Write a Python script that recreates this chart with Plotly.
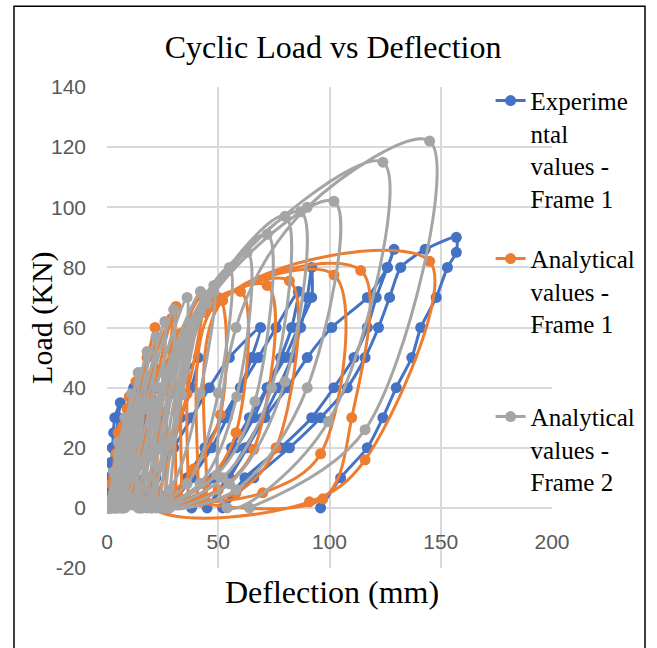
import plotly.graph_objects as go

# ---------------- data ----------------
exp_x = [0, 0.5, 1, 1.5, 1, 0.5, 0.5,
         1, 1.5, 2, 2.5, 3, 2.5, 2, 1.5, 1, 1,
         1.5, 2.5, 3.5, 6, 5, 4, 3, 2,
         4, 6, 8, 12, 11, 9, 6, 4,
         8, 12, 16, 20, 24, 22, 18, 14, 10, 7,
         13, 19, 25, 31, 41, 38, 33, 27, 21, 15,
         22, 30, 38, 46, 55, 69, 65, 60, 54, 47, 38, 28,
         36, 44, 52, 60, 68, 76, 86, 83, 78, 72, 66, 58, 48, 38,
         48, 56, 64, 72, 80, 86, 92, 92, 90, 87, 83, 77, 70, 62, 54, 45,
         55, 63, 71, 81, 90, 101, 117, 126, 129, 126, 121, 117, 111, 102, 92, 78, 62, 52,
         66, 82, 96, 108, 116, 122, 127, 132, 143, 157, 157, 153, 148, 141, 137, 130, 124, 117, 105, 96]
exp_y = [0, 5, 10, 15, 10, 5, 0,
         5, 10, 15, 20, 25, 20, 15, 10, 5, 0,
         10, 20, 30, 35, 30, 20, 10, 0,
         10, 20, 30, 40, 30, 20, 10, 0,
         10, 20, 30, 40, 46, 40, 30, 20, 10, 0,
         10, 20, 30, 40, 50, 40, 30, 20, 10, 0,
         10, 20, 30, 40, 50, 60, 50, 40, 30, 20, 10, 0,
         10, 20, 30, 40, 50, 60, 72, 60, 50, 40, 30, 20, 10, 0,
         10, 20, 30, 40, 50, 60, 70, 80, 70, 60, 50, 40, 30, 20, 10, 0,
         10, 20, 30, 40, 50, 60, 70, 80, 86, 80, 70, 60, 50, 40, 30, 20, 10, 0,
         10, 20, 30, 40, 50, 60, 70, 80, 86, 90, 85, 80, 70, 60, 50, 40, 30, 20, 10, 0]

an1_x = [0, 2, 4, 5, 3, 1,
         2, 5, 7, 9, 6, 3,
         4, 7, 10, 8, 5,
         6, 10, 13, 15.6, 11, 7,
         9, 13, 18, 14, 9,
         11, 16, 21.6, 17, 11,
         13, 19, 29, 23, 14,
         16, 23, 31, 26, 17,
         19, 28, 43, 36, 22,
         22, 30, 50, 51, 39, 25,
         26, 33, 60, 58, 44, 28,
         30, 36, 72, 66, 50, 32,
         33, 40, 82, 76, 58, 35,
         36, 44, 102, 96, 70, 38,
         40, 48, 114, 110, 97, 42,
         44, 52, 145, 116, 91, 20, 6, 2]
an1_y = [0, 8, 18, 25, 10, 1,
         3, 18, 27, 33, 14, 1,
         4, 22, 37, 16, 1,
         5, 28, 42, 45, 18, 1,
         4, 35, 50, 20, 1,
         4, 40, 60, 24, 1,
         5, 44, 63, 28, 2,
         5, 45, 67, 32, 2,
         4, 48, 71, 38, 3,
         4, 55, 70, 31, 13, 2,
         4, 58, 72, 25, 8, 2,
         3, 60, 74, 19.5, 6, 2,
         3, 62, 75.5, 20, 5, 2,
         3, 65, 77.5, 18, 5, 2,
         3, 67, 79, 30, 3, 2,
         3, 69, 82, 16, 2, 0, 25, 0]

an2_x = [0, 3, 5, 3, 1,
         2, 5, 8, 5, 2,
         3, 7, 11, 7, 3,
         4, 9, 14, 10, 4,
         5, 11, 18, 13, 5,
         6, 13, 22, 16, 6,
         7, 15, 26, 20, 8,
         8, 17, 30, 24, 10,
         10, 20, 36, 28, 12,
         12, 24, 42, 33.6, 20, 14,
         14, 27, 48, 41.8, 28, 16,
         16, 30, 55, 50, 36, 18,
         18, 33, 63, 58.3, 41.8, 20,
         20, 36, 72, 66.5, 49.3, 22,
         22, 39, 80, 74, 52, 24,
         24, 42, 87, 80, 55, 26,
         26, 45, 102, 90, 58, 28,
         28, 48, 124, 99.5, 54, 58, 90, 145, 116, 64]
an2_y = [0, 12, 22, 5, 0,
         2, 18, 30, 8, 0,
         2, 22, 38, 10, 0,
         2, 25, 45, 12, 0,
         2, 28, 52, 15, 0,
         2, 30, 57, 16, 0,
         2, 32, 62, 18, 0,
         2, 33, 66, 20, 1,
         2, 35, 70, 22, 1,
         2, 40, 72, 37.6, 5, 0,
         2, 45, 74, 38.2, 6, 0,
         2, 50, 80, 38.2, 8, 0,
         2, 55, 85, 37, 8.2, 0,
         2, 58, 91, 35.4, 11, 0,
         2, 62, 97, 40, 10, 0,
         2, 65, 98.5, 42, 8, 0,
         2, 68, 102, 40, 6, 0,
         2, 72, 115, 28.7, 0, 60, 100, 122, 26, 0]

series_names = ["Experime<br>ntal<br>values -<br>Frame 1",
                "Analytical<br>values -<br>Frame 1<br>\u00a0",
                "Analytical<br>values -<br>Frame 2"]
series_colors = ["#4472C4", "#ED7D31", "#A5A5A5"]
x_ticks = [0, 50, 100, 150, 200]
y_ticks = [-20, 0, 20, 40, 60, 80, 100, 120, 140]
y_tick_text = ["-20", "0", "20", "40", "60", "80", "100", "120", "140"]

# ---------------- figure ----------------
serif = "Liberation Serif, Times New Roman, serif"
sans = "Liberation Sans, Arial, sans-serif"

fig = go.Figure()
for name, xs, ys, col, sm in zip(series_names, [exp_x, an1_x, an2_x], [exp_y, an1_y, an2_y],
                                 series_colors, [0.6, 1.0, 1.0]):
    fig.add_trace(go.Scatter(
        x=xs, y=ys, mode="lines+markers", name=name, legendgroup=name,
        line=dict(color=col, width=3, shape="spline", smoothing=sm),
        marker=dict(color=col, size=11),
    ))

fig.update_layout(
    width=657, height=648,
    margin=dict(l=107, r=105, t=87, b=80),
    paper_bgcolor="white", plot_bgcolor="white",
    title=dict(text="Cyclic Load vs Deflection", x=0.508, xref="paper", xanchor="center",
               y=1 - 47 / 648, yanchor="middle", font=dict(family=serif, size=32, color="black")),
    xaxis=dict(range=[0, 200], tickvals=x_ticks, showgrid=True, gridcolor="#D9D9D9", gridwidth=1.5,
               zeroline=False, showline=False, ticks="", anchor="free", position=60 / 481,
               ticklabelstandoff=19,
               tickfont=dict(family=sans, size=21, color="#595959")),
    yaxis=dict(range=[-20, 140], tickvals=y_ticks, ticktext=y_tick_text, showgrid=True,
               gridcolor="#D9D9D9", gridwidth=1.5,
               zeroline=False, showline=False, ticks="", ticklabelstandoff=20,
               tickfont=dict(family=sans, size=21, color="#595959")),
    legend=dict(x=0.862, xanchor="left", y=1.019, yanchor="top", valign="top",
                font=dict(family=serif, size=25, color="black"), maxheight=600,
                bgcolor="rgba(0,0,0,0)", tracegroupgap=25),
    annotations=[
        dict(text="Deflection (mm)", x=0.506, y=-0.05, xref="paper", yref="paper",
             xanchor="center", yanchor="middle", showarrow=False,
             font=dict(family=serif, size=32, color="black")),
        dict(text="Load (KN)", x=-0.146, y=0.52, xref="paper", yref="paper", textangle=-90,
             xanchor="center", yanchor="middle", showarrow=False,
             font=dict(family=serif, size=30, color="black")),
    ],
    shapes=[dict(type="rect", xref="paper", yref="paper", x0=-0.209, x1=1.209, y0=-0.3, y1=1.168,
                 line=dict(color="black", width=1.5), fillcolor="rgba(0,0,0,0)", layer="above")],
)

fig.write_html("out.html")
